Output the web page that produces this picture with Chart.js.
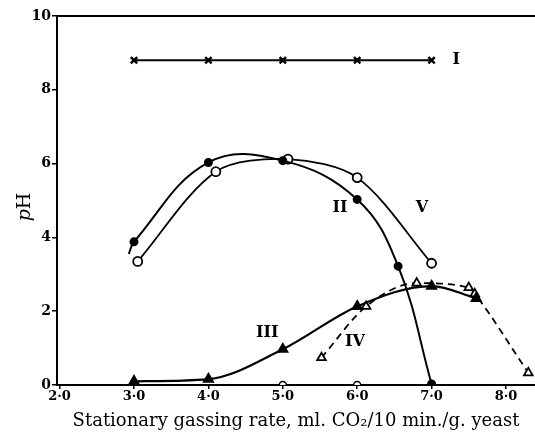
<!DOCTYPE html>
<html><head><meta charset="utf-8">
<script src="https://cdn.jsdelivr.net/npm/chart.js@4.4.0/dist/chart.umd.min.js"></script>
<style>html,body{margin:0;padding:0;background:#fff}canvas{display:block}</style>
</head><body>
<canvas id="c" width="535" height="433"></canvas>
<script>
// Curve I (crosses)
const xI = [3.0, 4.0, 5.0, 6.0, 7.0];
const yI = [8.8, 8.8, 8.8, 8.8, 8.8];
// Curve II (filled circles); first entry is the line stub without marker
const xII = [2.93, 3.0, 4.0, 5.0, 6.0, 6.55, 7.0];
const yII = [3.55, 3.88, 6.03, 6.08, 5.03, 3.22, 0.03];
// Curve V (open circles)
const xV = [3.05, 4.1, 5.07, 6.0, 7.0];
const yV = [3.35, 5.78, 6.12, 5.62, 3.3];
// Curve III (filled triangles)
const xIII = [3.0, 4.0, 5.0, 6.0, 7.0, 7.6];
const yIII = [0.1, 0.16, 0.97, 2.13, 2.68, 2.35];
// Curve IV (open triangles, dashed)
const xIV = [5.52, 6.12, 6.8, 7.5, 7.58, 8.3];
const yIV = [0.74, 2.13, 2.76, 2.64, 2.47, 0.33];
// Open circles lying on the axis
const xZero = [3.0, 5.0, 6.0];
const yZero = [0, 0, 0];
// Tick labels
const xTickLabels = {2: '2·0', 3: '3·0', 4: '4·0', 5: '5·0', 6: '6·0', 7: '7·0', 8: '8·0'};
const yTickLabels = {0: '0', 2: '2', 4: '4', 6: '6', 8: '8', 10: '10'};
// Curve labels
const curveNames = ['I', 'II', 'V', 'III', 'IV'];
const curveNameX = [7.33, 5.77, 6.87, 4.79, 5.97];
const curveNameY = [8.8, 4.8, 4.8, 1.41, 1.17];

const pts = (xs, ys) => xs.map((x, i) => ({x: x, y: ys[i]}));
const SERIF = '"DejaVu Serif", "Liberation Serif", serif';

const labelPlugin = {
  id: 'labels',
  afterDatasetsDraw(chart) {
    const ctx = chart.ctx, xs = chart.scales.x, ys = chart.scales.y, a = chart.chartArea;
    ctx.save();
    // top frame line
    ctx.strokeStyle = '#000'; ctx.lineWidth = 2;
    ctx.beginPath(); ctx.moveTo(a.left - 1, a.top); ctx.lineTo(a.right, a.top); ctx.stroke();
    ctx.fillStyle = '#000';
    ctx.font = 'bold 16px ' + SERIF;
    ctx.textAlign = 'center'; ctx.textBaseline = 'middle';
    curveNames.forEach((n, i) => {
      ctx.fillText(n, xs.getPixelForValue(curveNameX[i]), ys.getPixelForValue(curveNameY[i]));
    });
    // y title: italic p + H
    ctx.translate(25, 207);
    ctx.rotate(-Math.PI / 2);
    ctx.textAlign = 'left';
    ctx.font = 'italic 19px ' + SERIF;
    const wp = ctx.measureText('p').width;
    ctx.font = '19px ' + SERIF;
    const wH = ctx.measureText('H').width;
    const start = -(wp + wH) / 2;
    ctx.font = 'italic 19px ' + SERIF;
    ctx.fillText('p', start, 0);
    ctx.font = '19px ' + SERIF;
    ctx.fillText('H', start + wp, 0);
    ctx.restore();
  }
};

new Chart(document.getElementById('c'), {
  type: 'scatter',
  data: {
    datasets: [
      {data: pts(xI, yI), showLine: true, borderColor: '#000', borderWidth: 2, pointStyle: 'crossRot', pointRadius: 4.5, pointBorderWidth: 2.5, pointBorderColor: '#000', tension: 0},
      {data: pts(xII, yII), showLine: true, borderColor: '#000', borderWidth: 2, pointStyle: 'circle', pointRadius: xII.map((v, i) => i === 0 ? 0 : 3.5), pointBackgroundColor: '#000', pointBorderColor: '#000', tension: 0.4},
      {data: pts(xV, yV), showLine: true, borderColor: '#000', borderWidth: 1.8, pointStyle: 'circle', pointRadius: 4.5, pointBackgroundColor: '#fff', pointBorderColor: '#000', pointBorderWidth: 1.8, tension: 0.3},
      {data: pts(xIII, yIII), showLine: true, borderColor: '#000', borderWidth: 2.2, pointStyle: 'triangle', pointRadius: 5, pointBackgroundColor: '#000', pointBorderColor: '#000', cubicInterpolationMode: 'monotone'},
      {data: pts(xIV, yIV), showLine: true, borderColor: '#000', borderWidth: 1.8, borderDash: [7, 5], pointStyle: 'triangle', pointRadius: 5, pointBackgroundColor: '#fff', pointBorderColor: '#000', pointBorderWidth: 1.8, cubicInterpolationMode: 'monotone'},
      {data: pts(xZero, yZero), showLine: false, pointStyle: 'circle', pointRadius: 3.5, pointBackgroundColor: '#fff', pointBorderColor: '#000', pointBorderWidth: 1.5}
    ]
  },
  options: {
    responsive: false,
    animation: false,
    devicePixelRatio: 1,
    layout: {autoPadding: false, padding: {top: 16, right: 0, left: 0, bottom: 0}},
    plugins: {legend: {display: false}, tooltip: {enabled: false}},
    elements: {line: {borderCapStyle: 'butt'}},
    scales: {
      x: {
        type: 'linear', min: 1.965, max: 8.39,
        afterFit: s => { s.height = 48; s.paddingRight = 0; s.paddingLeft = 0; },
        afterBuildTicks: s => { s.ticks = Object.keys(xTickLabels).map(v => ({value: +v})); },
        border: {display: true, color: '#000', width: 2},
        grid: {display: true, drawOnChartArea: false, drawTicks: true, tickLength: 4, color: '#000', lineWidth: 1.5},
        ticks: {color: '#000', padding: 0, maxRotation: 0, autoSkip: false, font: {family: SERIF, size: 13, weight: 'bold'}, callback: v => xTickLabels[v]},
        title: {display: true, text: 'Stationary gassing rate, ml. CO₂/10 min./g. yeast', color: '#000', font: {family: SERIF, size: 18}, padding: {top: 0, bottom: 1}}
      },
      y: {
        type: 'linear', min: 0, max: 10,
        afterFit: s => { s.width = 57; s.paddingTop = 0; s.paddingBottom = 0; },
        afterBuildTicks: s => { s.ticks = Object.keys(yTickLabels).map(v => ({value: +v})); },
        border: {display: true, color: '#000', width: 2},
        grid: {display: true, drawOnChartArea: false, drawTicks: true, tickLength: 5, color: '#000', lineWidth: 1.5},
        ticks: {color: '#000', padding: 1, font: {family: SERIF, size: 14, weight: 'bold'}, callback: v => yTickLabels[v]}
      }
    }
  },
  plugins: [labelPlugin]
});
</script>
</body></html>
